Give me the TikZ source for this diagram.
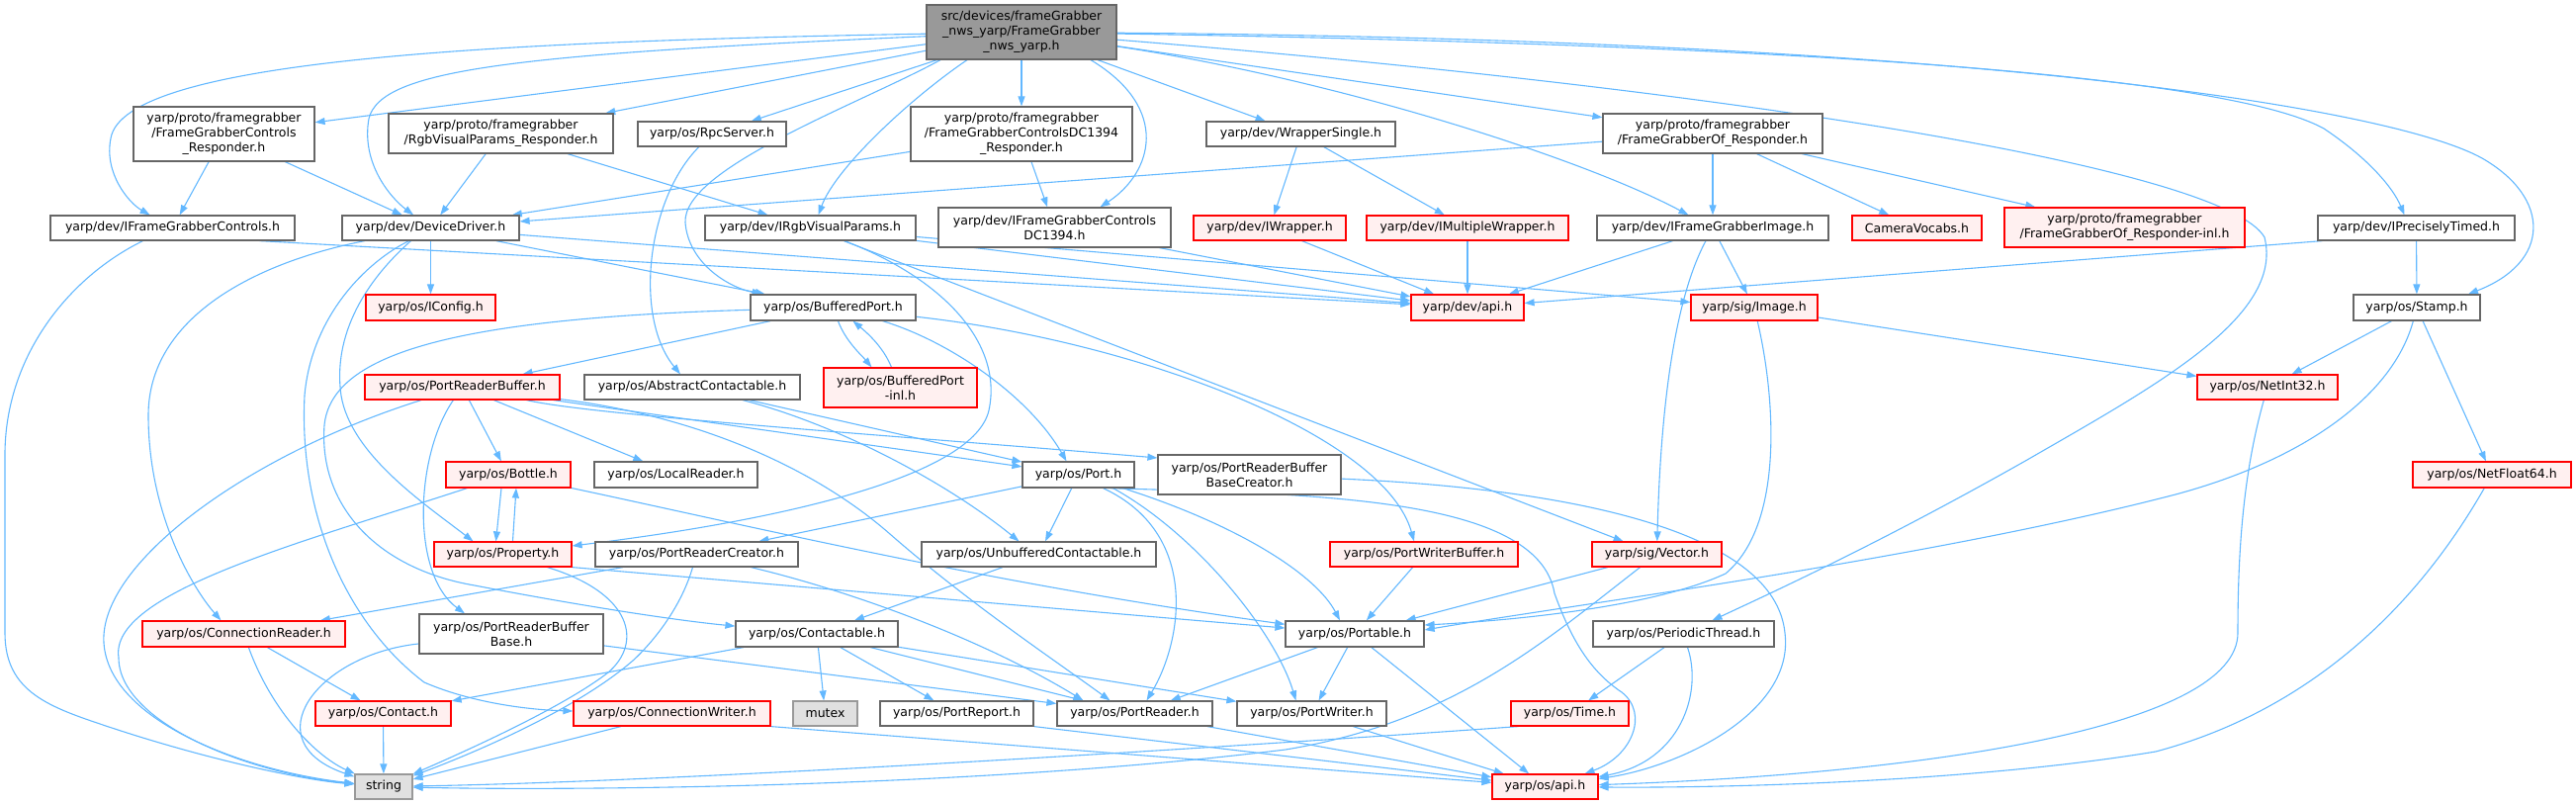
\documentclass[tikz,border=0pt]{standalone}
\usepackage{fontspec}
\setmainfont{DejaVu Sans}
\usetikzlibrary{arrows.meta}
\definecolor{edgec}{HTML}{63B8FF}
\definecolor{redfill}{HTML}{FFF0F0}
\definecolor{grayfill}{HTML}{E0E0E0}
\definecolor{mainfill}{HTML}{999999}
\definecolor{bord}{HTML}{666666}
\definecolor{redb}{HTML}{FF0000}
\definecolor{grayb}{HTML}{999999}
\pgfdeclarelayer{edgelayer}
\pgfsetlayers{edgelayer,main}
\tikzset{
  nbox/.style={draw=bord, fill=white, line width=1.2pt, inner xsep=2pt, inner ysep=0pt,
    align=center, font=\fontsize{12.5}{15}\selectfont, text=black},
  redbox/.style={nbox, draw=redb, fill=redfill},
  greybox/.style={nbox, draw=grayb, fill=grayfill},
  mainbox/.style={nbox, fill=mainfill},
  dep/.style={draw=edgec, line width=1.1pt, -{Triangle[length=10pt,width=7pt]}}
}
\begin{document}
\begin{tikzpicture}[x=1pt,y=-1pt]
\useasboundingbox (0,0) rectangle (2605,813);
% nodes
\node[mainbox, minimum width=192pt, minimum height=55pt] (main) at (1033,32.5) {src/devices/frameGrabber\\\_nws\_yarp/FrameGrabber\\\_nws\_yarp.h};
\node[nbox, minimum width=183pt, minimum height=55pt] (fgcr) at (226.5,135.5) {yarp/proto/framegrabber\\/FrameGrabberControls\\\_Responder.h};
\node[nbox, minimum width=227pt, minimum height=40pt] (rvpr) at (506.5,135) {yarp/proto/framegrabber\\/RgbVisualParams\_Responder.h};
\node[nbox, minimum width=150pt, minimum height=25pt] (rpc) at (720,135.5) {yarp/os/RpcServer.h};
\node[nbox, minimum width=224pt, minimum height=55pt] (fgcdcr) at (1033,135.5) {yarp/proto/framegrabber\\/FrameGrabberControlsDC1394\\\_Responder.h};
\node[nbox, minimum width=191pt, minimum height=25pt] (ws) at (1315.5,135.5) {yarp/dev/WrapperSingle.h};
\node[nbox, minimum width=222pt, minimum height=40pt] (fgor) at (1732,135) {yarp/proto/framegrabber\\/FrameGrabberOf\_Responder.h};
\node[nbox, minimum width=247pt, minimum height=25pt] (ifgc) at (174.5,230.5) {yarp/dev/IFrameGrabberControls.h};
\node[nbox, minimum width=179pt, minimum height=25pt] (dd) at (435.5,230.5) {yarp/dev/DeviceDriver.h};
\node[nbox, minimum width=213pt, minimum height=25pt] (irvp) at (819.5,230.5) {yarp/dev/IRgbVisualParams.h};
\node[nbox, minimum width=235pt, minimum height=40pt] (ifgcdc) at (1066.5,230) {yarp/dev/IFrameGrabberControls\\DC1394.h};
\node[redbox, minimum width=154pt, minimum height=25pt] (iw) at (1284,230.5) {yarp/dev/IWrapper.h};
\node[redbox, minimum width=204pt, minimum height=25pt] (imw) at (1484,230.5) {yarp/dev/IMultipleWrapper.h};
\node[nbox, minimum width=234pt, minimum height=25pt] (ifgi) at (1732,230.5) {yarp/dev/IFrameGrabberImage.h};
\node[redbox, minimum width=131pt, minimum height=25pt] (cv) at (1938.5,230.5) {CameraVocabs.h};
\node[redbox, minimum width=243pt, minimum height=40pt] (fgori) at (2148.5,230) {yarp/proto/framegrabber\\/FrameGrabberOf\_Responder-inl.h};
\node[nbox, minimum width=199pt, minimum height=25pt] (ipt) at (2443.5,230.5) {yarp/dev/IPreciselyTimed.h};
\node[redbox, minimum width=131pt, minimum height=26pt] (iconfig) at (435.5,311) {yarp/os/IConfig.h};
\node[nbox, minimum width=167pt, minimum height=26pt] (bp) at (842.5,311) {yarp/os/BufferedPort.h};
\node[redbox, minimum width=114pt, minimum height=26pt] (devapi) at (1484,311) {yarp/dev/api.h};
\node[redbox, minimum width=128pt, minimum height=26pt] (sigimg) at (1774,311) {yarp/sig/Image.h};
\node[nbox, minimum width=128pt, minimum height=26pt] (stamp) at (2444,311) {yarp/os/Stamp.h};
\node[redbox, minimum width=197pt, minimum height=25pt] (prb) at (467.5,391.5) {yarp/os/PortReaderBuffer.h};
\node[nbox, minimum width=218pt, minimum height=25pt] (ac) at (700,391.5) {yarp/os/AbstractContactable.h};
\node[redbox, minimum width=155pt, minimum height=40pt] (bpi) at (910.5,392) {yarp/os/BufferedPort\\-inl.h};
\node[redbox, minimum width=142pt, minimum height=25pt] (netint) at (2293,391.5) {yarp/os/NetInt32.h};
\node[redbox, minimum width=126pt, minimum height=26pt] (bottle) at (514,480) {yarp/os/Bottle.h};
\node[nbox, minimum width=165pt, minimum height=26pt] (lr) at (683.5,480) {yarp/os/LocalReader.h};
\node[nbox, minimum width=113pt, minimum height=26pt] (port) at (1090.5,480) {yarp/os/Port.h};
\node[nbox, minimum width=185pt, minimum height=40pt] (prbbc) at (1263.5,480) {yarp/os/PortReaderBuffer\\BaseCreator.h};
\node[redbox, minimum width=160pt, minimum height=26pt] (netf) at (2520,480) {yarp/os/NetFloat64.h};
\node[redbox, minimum width=139pt, minimum height=25pt] (prop) at (508.5,560.5) {yarp/os/Property.h};
\node[nbox, minimum width=205pt, minimum height=25pt] (prc) at (704.5,560.5) {yarp/os/PortReaderCreator.h};
\node[nbox, minimum width=237pt, minimum height=25pt] (uc) at (1050.5,560.5) {yarp/os/UnbufferedContactable.h};
\node[redbox, minimum width=190pt, minimum height=25pt] (pwb) at (1440,560.5) {yarp/os/PortWriterBuffer.h};
\node[redbox, minimum width=131pt, minimum height=25pt] (vec) at (1675.5,560.5) {yarp/sig/Vector.h};
\node[redbox, minimum width=205pt, minimum height=26pt] (cr) at (246.5,641) {yarp/os/ConnectionReader.h};
\node[nbox, minimum width=186pt, minimum height=40pt] (prbb) at (517,641) {yarp/os/PortReaderBuffer\\Base.h};
\node[nbox, minimum width=164pt, minimum height=26pt] (contactable) at (826,641) {yarp/os/Contactable.h};
\node[nbox, minimum width=140pt, minimum height=26pt] (portable) at (1370,641) {yarp/os/Portable.h};
\node[nbox, minimum width=183pt, minimum height=26pt] (pt) at (1702.5,641) {yarp/os/PeriodicThread.h};
\node[redbox, minimum width=137pt, minimum height=25pt] (contact) at (387.5,721.5) {yarp/os/Contact.h};
\node[redbox, minimum width=199pt, minimum height=25pt] (cw) at (679.5,721.5) {yarp/os/ConnectionWriter.h};
\node[greybox, minimum width=65pt, minimum height=25pt] (mutex) at (834.5,721.5) {mutex};
\node[nbox, minimum width=155pt, minimum height=25pt] (preport) at (967.5,721.5) {yarp/os/PortReport.h};
\node[nbox, minimum width=157pt, minimum height=25pt] (preader) at (1147.5,721.5) {yarp/os/PortReader.h};
\node[nbox, minimum width=151pt, minimum height=25pt] (pwriter) at (1326.5,721.5) {yarp/os/PortWriter.h};
\node[redbox, minimum width=119pt, minimum height=25pt] (time) at (1587.5,721.5) {yarp/os/Time.h};
\node[greybox, minimum width=58pt, minimum height=25pt] (string) at (388,795.5) {string};
\node[redbox, minimum width=107pt, minimum height=25pt] (osapi) at (1562.5,795.5) {yarp/os/api.h};

\begin{pgfonlayer}{edgelayer}
% main
\draw[dep] (main) .. controls (500,42) and (125,60) .. (112,140) .. controls (105,175) and (130,205) .. (ifgc);
\draw[dep] (main) .. controls (520,55) and (385,70) .. (373,120) .. controls (365,165) and (395,200) .. (dd);
\draw[dep] (main) -- (fgcr);
\draw[dep] (main) -- (rvpr);
\draw[dep] (main) -- (rpc);
\draw[dep] ([xshift=-82pt]main.south) .. controls (870,105) and (690,170) .. (693,225) .. controls (696,265) and (735,290) .. ([xshift=-72pt]bp.north);
\draw[dep] ([xshift=-55pt]main.south) .. controls (920,100) and (845,170) .. ([xshift=8pt]irvp.north);
\draw[dep] (main) -- (fgcdcr);
\draw[dep] ([xshift=70pt]main.south) .. controls (1185,110) and (1165,175) .. ([xshift=46pt]ifgcdc.north);
\draw[dep] (main) -- (ws);
\draw[dep] (main) -- (fgor);
\draw[dep] (main) .. controls (1350,80) and (1600,160) .. (ifgi);
\draw[dep] (main) .. controls (1750,90) and (2250,170) .. (2290,240) .. controls (2310,320) and (2180,390) .. (2050,465) .. controls (1900,550) and (1790,600) .. (pt);
\draw[dep] (main) .. controls (1800,45) and (2250,75) .. (2350,130) .. controls (2395,160) and (2420,190) .. ([xshift=-12pt]ipt.north);
\draw[dep] (main) .. controls (2000,40) and (2420,110) .. (2510,160) .. controls (2580,200) and (2580,265) .. ([xshift=52pt]stamp.north);
% level 1
\draw[dep] (fgcr) -- (ifgc);
\draw[dep] (fgcr) -- (dd);
\draw[dep] (rvpr) -- (dd);
\draw[dep] (rvpr) -- (irvp);
\draw[dep] (rpc) .. controls (655,200) and (640,320) .. ([xshift=-12pt]ac.north);
\draw[dep] (fgcdcr) -- (dd);
\draw[dep] (fgcdcr) -- (ifgcdc);
\draw[dep] (ws) -- (iw);
\draw[dep] (ws) -- (imw);
\draw[dep] (fgor) -- (dd);
\draw[dep] (fgor) -- (ifgi);
\draw[dep] (fgor) -- (cv);
\draw[dep] (fgor) -- (fgori);
% level 2
\draw[dep] ([xshift=-30pt]ifgc.south) .. controls (70,280) and (5,360) .. (5,460) -- (5,640) .. controls (5,700) and (50,715) .. (110,735) .. controls (200,765) and (300,788) .. (string);
\draw[dep] ([xshift=88pt]ifgc.south) -- (devapi);
\draw[dep] (dd) .. controls (260,265) and (150,320) .. (150,420) .. controls (150,520) and (195,595) .. ([xshift=-23pt]cr.north);
\draw[dep] ([xshift=-22pt]dd.south) .. controls (370,265) and (315,320) .. (308,400) .. controls (302,520) and (350,630) .. (429,690) .. controls (480,712) and (540,718) .. (cw);
\draw[dep] ([xshift=-20pt]dd.south) .. controls (380,275) and (335,330) .. (345,400) .. controls (355,460) and (430,510) .. ([xshift=-30pt]prop.north);
\draw[dep] (dd) -- (iconfig);
\draw[dep] (dd) -- (bp);
\draw[dep] (dd) -- (devapi);
\draw[dep] (irvp) .. controls (950,280) and (1015,345) .. (1000,415) .. controls (985,480) and (800,525) .. (prop);
\draw[dep] (irvp) -- (vec);
\draw[dep] (irvp) -- (devapi);
\draw[dep] (irvp) -- (sigimg);
\draw[dep] (ifgcdc) -- (devapi);
\draw[dep] (iw) -- (devapi);
\draw[dep] (imw) -- (devapi);
\draw[dep] (ifgi) -- (devapi);
\draw[dep] (ifgi) -- (sigimg);
\draw[dep] (ifgi) .. controls (1700,290) and (1680,380) .. (vec);
\draw[dep] ([xshift=-95pt]ipt.south) -- (devapi);
\draw[dep] (ipt) -- (stamp);
% level 3
\draw[dep] (bp) -- (prb);
\draw[dep] ([xshift=5pt]bp.south) .. controls (855,345) and (872,360) .. ([xshift=-29pt]bpi.north);
\draw[dep] ([xshift=-9pt]bpi.north) .. controls (893,350) and (875,335) .. ([xshift=20pt]bp.south);
\draw[dep] ([xshift=50pt]bp.south) .. controls (960,345) and (1040,400) .. ([xshift=-12pt]port.north);
\draw[dep] (bp) .. controls (1150,345) and (1400,440) .. ([xshift=-10pt]pwb.north);
\draw[dep] (bp) .. controls (450,322) and (335,360) .. (328,430) .. controls (322,510) and (380,575) .. (480,592) .. controls (600,615) and (690,628) .. (contactable);
\draw[dep] (sigimg) -- (netint);
\draw[dep] (sigimg) .. controls (1795,400) and (1805,530) .. (1745,580) .. controls (1670,615) and (1520,628) .. ([yshift=9pt]portable.east);
\draw[dep] (stamp) -- (netint);
\draw[dep] (stamp) -- (netf);
\draw[dep] (stamp) .. controls (2420,400) and (2330,465) .. (2200,500) .. controls (1950,565) and (1600,610) .. ([yshift=4pt]portable.east);
\draw[dep] (netint) .. controls (2268,480) and (2263,560) .. (2263,640) .. controls (2263,735) and (1950,782) .. (osapi);
\draw[dep] (netf) .. controls (2440,620) and (2330,720) .. (2180,760) .. controls (2000,790) and (1750,797) .. (osapi);
% prb
\draw[dep] (prb) .. controls (250,460) and (100,570) .. (105,650) .. controls (110,730) and (250,780) .. (string);
\draw[dep] (prb) .. controls (420,460) and (415,580) .. ([xshift=-47pt]prbb.north);
\draw[dep] (prb) -- (bottle);
\draw[dep] (prb) -- (lr);
\draw[dep] (prb) -- (port);
\draw[dep] ([xshift=65pt]prb.south) .. controls (600,420) and (900,440) .. ([yshift=17pt]prbbc.west);
\draw[dep] (prb) .. controls (700,420) and (820,470) .. (900,540) .. controls (980,610) and (1070,670) .. ([xshift=-25pt]preader.north);
% ac
\draw[dep] (ac) -- (port);
\draw[dep] (ac) .. controls (850,430) and (960,490) .. ([xshift=-20pt]uc.north);
% bottle, prop
\draw[dep] (bottle) .. controls (300,550) and (110,600) .. (120,665) .. controls (120,730) and (250,782) .. (string);
\draw[dep] (bottle) .. controls (750,530) and (1000,590) .. (portable);
\draw[dep] ([xshift=-7pt]bottle.south) -- ([xshift=-7pt]prop.north);
\draw[dep] ([xshift=10pt]prop.north) -- ([xshift=8pt]bottle.south);
\draw[dep] (prop.south east) -- (portable);
\draw[dep] ([xshift=45pt]prop.south) .. controls (640,600) and (650,650) .. (615,680) .. controls (570,715) and (470,760) .. (string);
% port
\draw[dep] (port) -- (prc);
\draw[dep] (port) -- (uc);
\draw[dep] ([xshift=25pt]port.south) .. controls (1215,540) and (1195,650) .. ([xshift=12pt]preader.north);
\draw[dep] ([xshift=35pt]port.south) .. controls (1210,540) and (1290,640) .. ([xshift=-16pt]pwriter.north);
\draw[dep] ([xshift=45pt]port.south) .. controls (1250,530) and (1330,580) .. ([xshift=-15pt]portable.north);
\draw[dep] ([xshift=30pt]port.south) .. controls (1320,500) and (1555,500) .. (1572,600) .. controls (1590,650) and (1610,680) .. (1640,700) .. controls (1668,722) and (1650,765) .. ([xshift=40pt]osapi.north);
\draw[dep] (prbbc) .. controls (1600,495) and (1795,540) .. (1805,640) .. controls (1815,720) and (1700,775) .. (osapi);
% prc, uc
\draw[dep] (prc) -- (cr);
\draw[dep] ([xshift=-4pt]prc.south) .. controls (690,610) and (665,645) .. (640,668) .. controls (580,720) and (470,765) .. (string);
\draw[dep] (prc) .. controls (870,600) and (1000,650) .. ([xshift=-52pt]preader.north);
\draw[dep] (uc) -- (contactable);
\draw[dep] (pwb) -- (portable);
\draw[dep] (vec) -- (portable);
\draw[dep] (vec) .. controls (1560,650) and (1470,730) .. (1300,758) .. controls (1000,795) and (600,800) .. (string);
% level 5
\draw[dep] (cr) .. controls (275,720) and (320,765) .. (string);
\draw[dep] (cr) -- (contact);
\draw[dep] (prbb) .. controls (320,662) and (255,750) .. (string);
\draw[dep] (prbb) -- (preader);
\draw[dep] (contactable) -- (contact);
\draw[dep] (contactable) -- (mutex);
\draw[dep] (contactable) -- (preport);
\draw[dep] (contactable) -- (preader);
\draw[dep] (contactable) -- (pwriter);
\draw[dep] (portable) -- (preader);
\draw[dep] (portable) -- (pwriter);
\draw[dep] (portable) -- (osapi);
\draw[dep] (pt) -- (time);
\draw[dep] ([xshift=4pt]pt.south) .. controls (1722,700) and (1700,770) .. (osapi);
% level 6
\draw[dep] (contact) -- (string);
\draw[dep] (cw) -- (string);
\draw[dep] (cw.south east) -- (osapi);
\draw[dep] (preport.south east) -- (osapi);
\draw[dep] (preader) -- (osapi);
\draw[dep] (pwriter) -- (osapi);
\draw[dep] ([xshift=-52pt]time.south) .. controls (1250,755) and (700,790) .. (string);
\end{pgfonlayer}
\end{tikzpicture}
\end{document}
